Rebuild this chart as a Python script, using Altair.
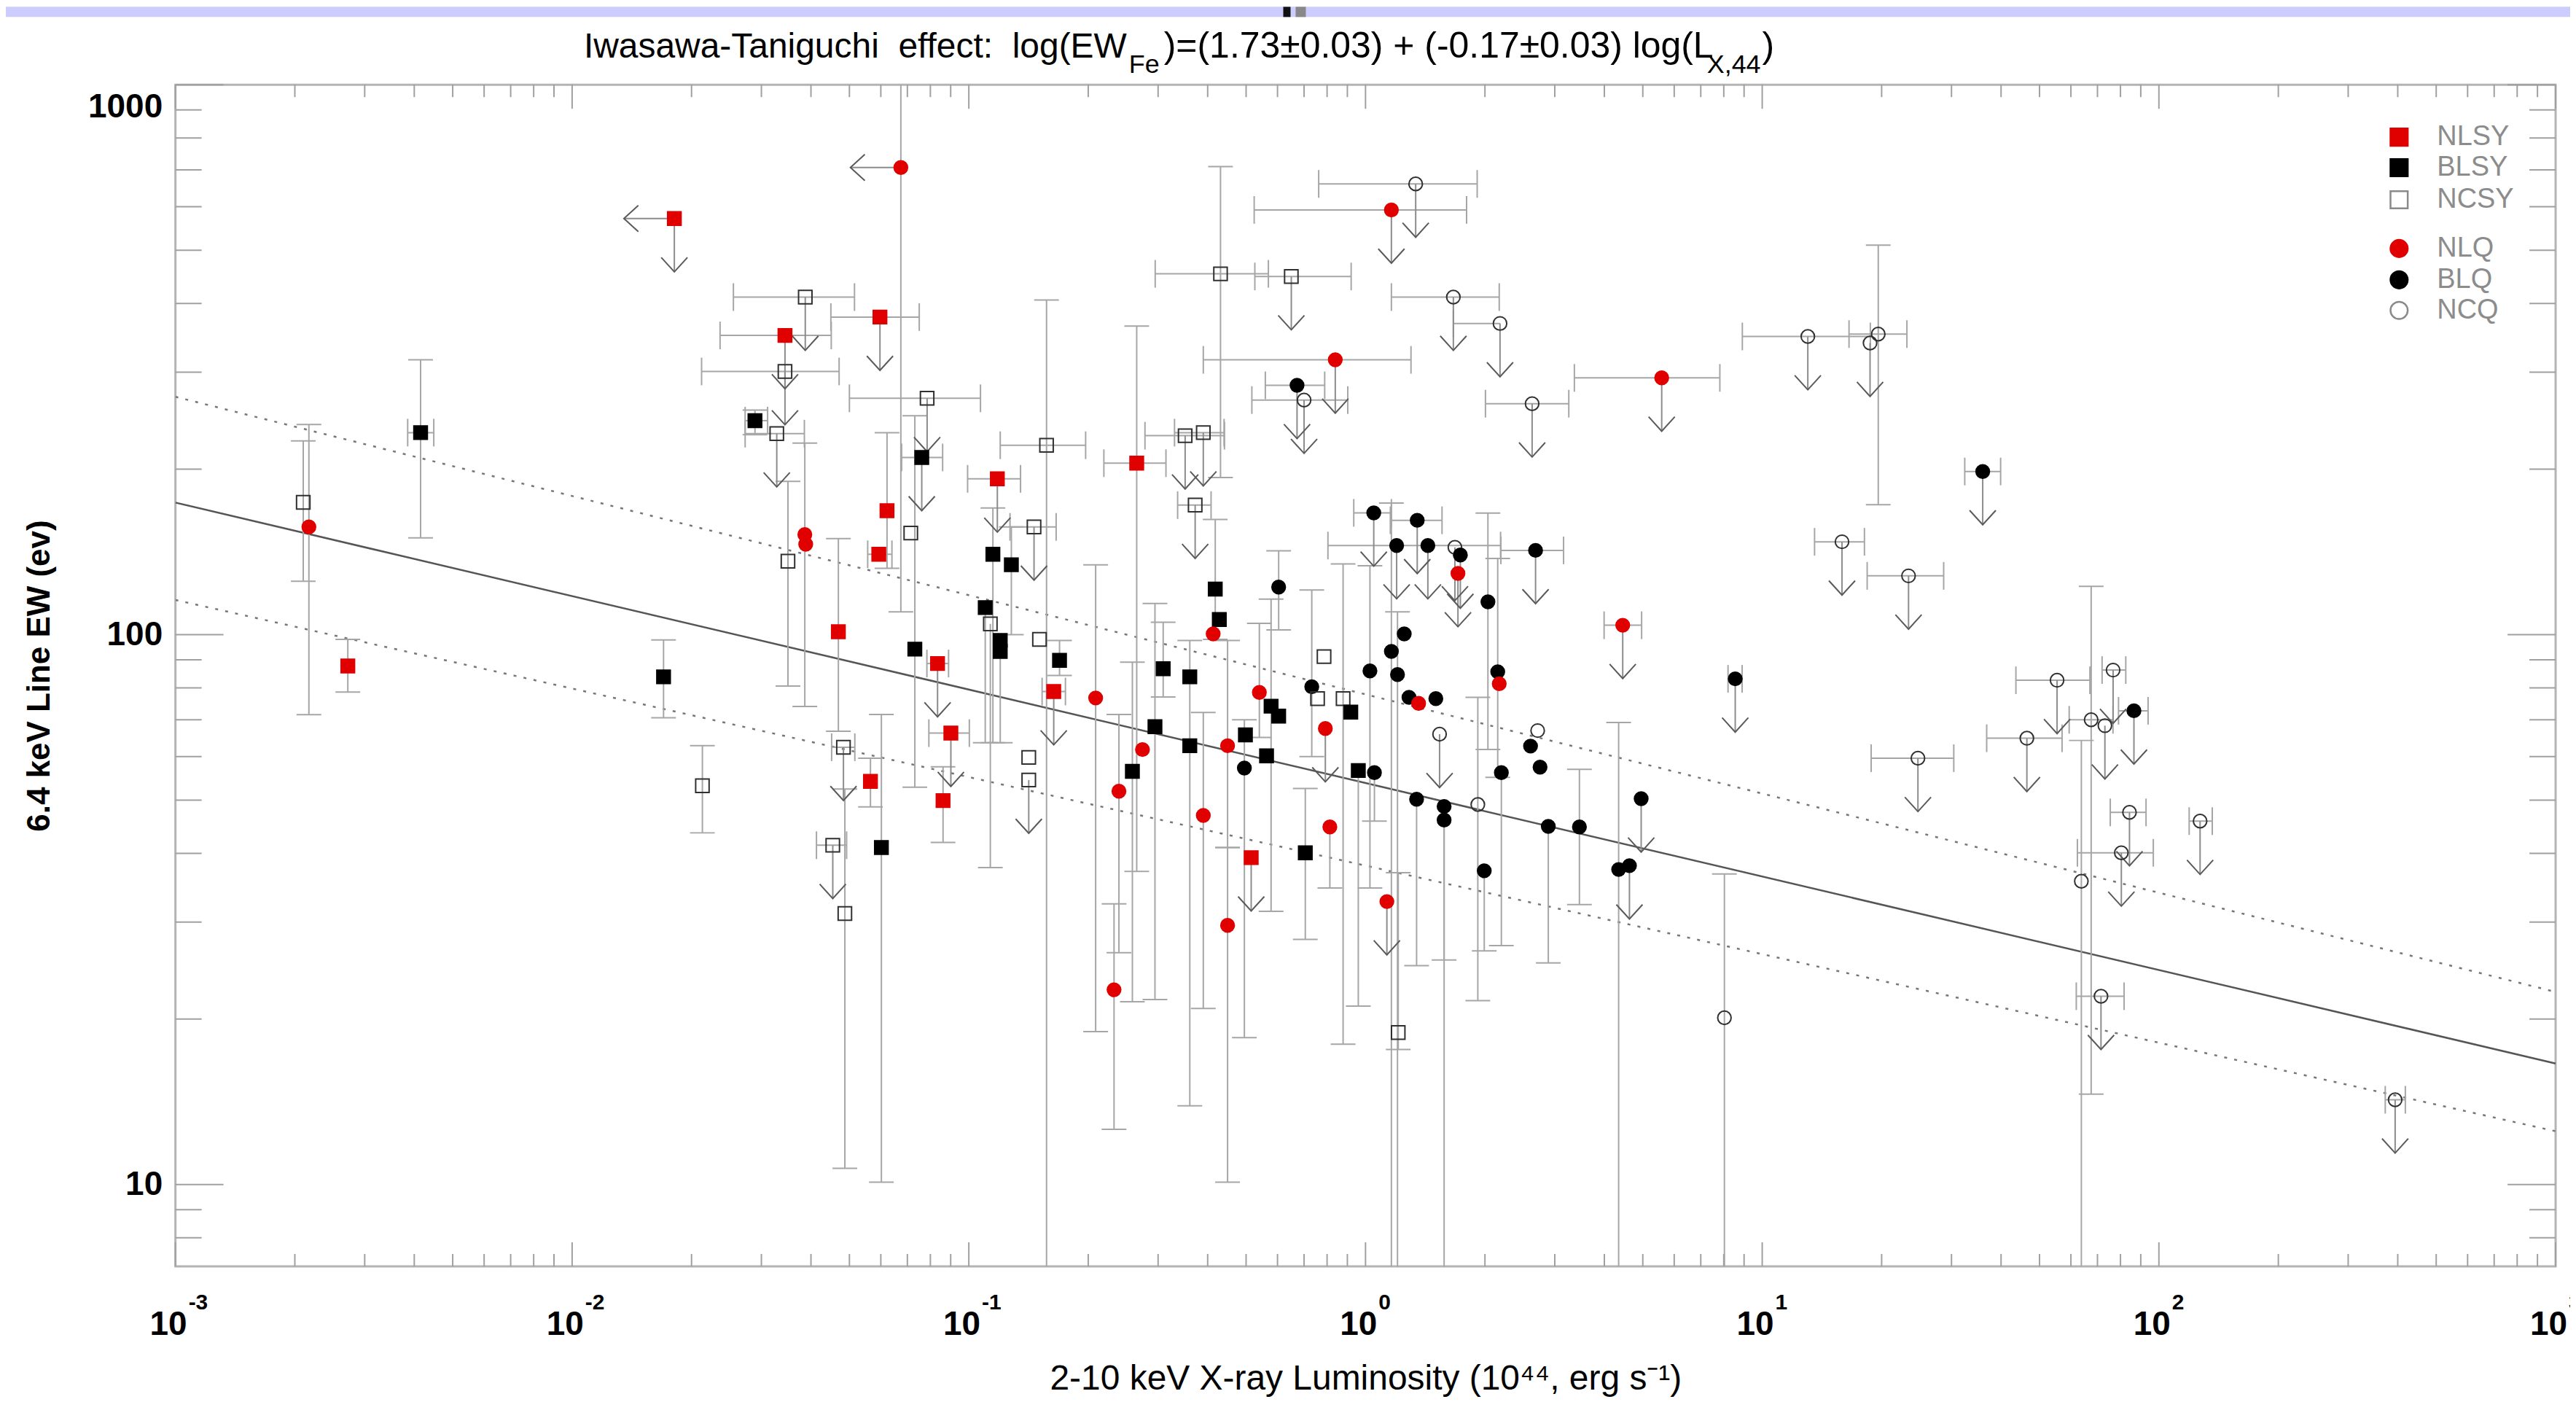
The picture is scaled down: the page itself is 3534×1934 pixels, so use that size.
import altair as alt
import pandas as pd

W, H = 3270, 1623
FONT = "Liberation Sans"
RED = "#e00000"
EBC = "#a6a6a6"
TICKC = "#a0a0a0"
N = None

# ---------------- data ----------------
cls = [
    "NCSY", "NLQ", "NLSY", "BLSY", "BLSY", "NCSY", "NLSY", "NCSY", "NLSY", "NCSY", "BLSY", "NCSY",
    "NLQ", "NLSY", "NCSY", "BLSY", "NCSY", "NCSY", "BLQ", "NCQ", "NCSY", "NCSY", "NCSY", "NLSY", "NCSY", "NLSY", "NCSY",
    "NLSY", "NLSY", "NLQ", "NLQ", "NCSY", "NCSY", "BLSY", "BLQ", "BLSY", "BLSY", "BLSY",
    "NCQ", "NLQ", "NCQ", "NCQ", "NLQ", "NCQ", "NLQ", "BLQ", "BLQ", "BLQ", "BLQ", "NCQ", "BLQ", "NLQ", "BLQ", "BLQ",
    "NLQ", "BLQ", "BLQ", "BLQ", "BLQ", "BLQ", "NLQ", "NCSY",
    "BLQ", "NCQ", "NCQ", "NCQ", "NCQ", "NCQ", "BLQ", "NCQ", "NCQ", "NCQ", "NCQ", "NCQ", "NCQ", "BLQ", "NCQ", "NCQ", "NCQ", "NCQ", "NCQ", "NCQ", "NCQ",
    "NLSY", "NCSY", "NCSY", "NCSY", "NLSY", "BLSY", "BLSY", "NLSY", "NLSY", "NLSY", "BLSY", "BLSY", "NCSY", "NCSY", "BLSY", "NLSY", "NCSY", "NCSY",
    "NLQ", "NLQ", "NLQ", "NLQ", "BLSY", "BLSY", "BLSY", "BLSY", "BLSY", "NLQ", "NLQ", "NLQ", "BLSY", "BLQ", "BLSY", "NLQ", "NLQ", "BLSY", "BLSY", "BLSY",
    "BLQ", "NCSY", "NCSY", "BLSY", "NLQ", "BLQ", "NLQ", "BLQ", "NCQ", "BLSY", "BLQ", "BLQ", "BLQ", "BLQ", "NCQ", "BLQ", "NCQ", "BLQ", "BLQ", "BLQ",
    "BLQ", "BLQ", "BLQ", "BLQ", "BLQ", "BLSY", "NLQ", "NLSY", "NLQ", "NCSY",
]
lum = [
    0.0021, 0.00217, 0.00272, 0.00415, 0.017, 0.0213, 0.0181, 0.0387, 0.0344, 0.0344, 0.0289, 0.0328,
    0.0674, 0.0597, 0.0785, 0.0761, 0.431, 0.65, 0.672, 0.70, 0.351, 0.39, 0.372, 0.265, 0.157, 0.118, 0.146,
    0.0622, 0.0593, 0.0386, 0.0388, 0.035, 0.0714, 0.418, 0.604, 0.115, 0.128, 0.11,
    1.338, 1.162, 1.665, 2.183, 0.839, 2.63, 5.58, 1.049, 1.35, 1.198, 1.436, 1.68, 1.734, 1.71, 2.683, 2.035,
    4.45, 1.252, 1.162, 1.026, 1.204, 2.154, 2.173, 0.786,
    35.96, 13.03, 19.61, 18.7, 15.89, 23.38, 8.55, 24.69, 55.37, 46.47, 76.65, 67.49, 73.09, 86.5, 84.3, 127, 80.4, 63.75, 71.45, 8.03, 394,
    0.0469, 0.0483, 0.0454, 0.0487, 0.0565, 0.0602, 0.0731, 0.0834, 0.0901, 0.0861, 0.12, 0.12, 0.1133, 0.1507, 0.1693, 0.1637, 0.1416, 0.1416,
    0.2088, 0.274, 0.239, 0.2323, 0.2584, 0.2946, 0.309, 0.3606, 0.3606, 0.39, 0.449, 0.449, 0.498, 0.495, 0.428, 0.413, 0.54, 0.578, 0.604, 0.563,
    0.732, 0.757, 0.878, 0.918, 0.792, 1.287, 1.361, 1.504, 1.537, 0.959, 1.053, 1.345, 1.578, 1.578, 1.919, 2.2, 2.716, 2.606, 2.754, 2.889,
    3.461, 4.953, 4.346, 4.627, 1.992, 0.705, 0.813, 0.515, 1.132, 1.209,
]
ew = [
    174, 157, 87.7, 233, 83.8, 53.1, 571, 411, 350, 301, 245, 232,
    707, 378, 269, 210, 453, 448, 284, 267, 230, 233, 172, 205, 221, 192, 157,
    168, 140, 152, 146, 136, 153, 121, 122, 140, 134, 112,
    660, 592, 411, 368, 316, 263, 293, 166.5, 161.4, 145.2, 145.2, 144.1, 139.6, 129.2, 142.3, 114.7,
    104, 100.3, 93.2, 85.9, 84.6, 85.6, 81.4, 91.2,
    198, 348.5, 352, 339, 147.5, 127.9, 83.1, 59.6, 82.6, 64.8, 86.2, 70, 68.3, 72.7, 47.5, 45.8, 40.1, 35.6, 22, 20.1, 14.26,
    101.2, 62.4, 41.4, 31.1, 54.1, 41, 94.1, 88.6, 66.2, 49.9, 97.6, 93.2, 104.6, 98, 89.8, 78.8, 59.8, 54.4,
    76.7, 61.8, 51.9, 22.6, 56.4, 68, 86.7, 83.8, 62.8, 46.9, 62.8, 29.6, 65.7, 57.2, 106.5, 100.3, 78.5, 74.1, 71.1, 60.2,
    80.4, 76.5, 76.5, 72.3, 67.5, 76.9, 75, 76.5, 65.9, 56.6, 56.1, 50.2, 48.7, 46, 49.1, 56.1, 66.9, 62.7, 57.4, 44.8,
    44.7, 50.3, 37.4, 38, 37.2, 40.1, 44.7, 39.3, 32.7, 18.9,
]
upper_limit = [
    0, 0, 0, 0, 0, 0, 1, 1, 1, 1, 0, 1,
    0, 1, 1, 1, 0, 1, 1, 1, 1, 1, 1, 0, 0, 1, 1,
    0, 0, 0, 0, 0, 0, 0, 0, 0, 0, 0,
    1, 1, 1, 1, 1, 1, 1, 1, 1, 1, 1, 1, 1, 1, 1, 0,
    1, 0, 0, 0, 0, 0, 0, 0,
    1, 1, 0, 1, 1, 1, 1, 1, 1, 1, 1, 0, 1, 1, 1, 1, 1, 0, 1, 0, 1,
    0, 1, 1, 0, 0, 0, 0, 1, 1, 0, 0, 0, 0, 0, 0, 1, 0, 1,
    0, 0, 0, 0, 0, 0, 0, 0, 0, 0, 0, 0, 0, 0, 0, 0, 0, 0, 0, 0,
    0, 0, 0, 0, 1, 0, 0, 0, 1, 0, 0, 0, 0, 0, 0, 0, 0, 0, 0, 0,
    0, 1, 0, 1, 0, 0, 0, 1, 1, 0,
]
left_limit = [
    0, 0, 0, 0, 0, 0, 1, 0, 0, 0, 0, 0,
    1, 0, 0, 0, 0, 0, 0, 0, 0, 0, 0, 0, 0, 0, 0,
] + [0] * 124
ew_lo = [
    125, 71.5, 78.6, 150, 70.6, 43.6, N, N, N, N, 231, N,
    110, N, N, N, 193, N, N, N, N, N, N, 37.1, 5, N, N,
    132, N, 74, N, 80.6, N, 98, 102, 63.6, 100, 63.6,
    N, N, N, N, N, N, N, N, N, N, N, N, N, N, N, 61.8,
    N, N, 5, 34.6, 5, 55, N, N,
    N, N, 172.3, N, N, N, N, N, N, N, N, 14.6, N, N, N, N, N, 5, N, 5, N,
    66.7, N, N, 10.7, 48.6, 10.1, 52.8, N, N, 41.9, 63.6, N, 37.7, N, 84.3, N, N, N,
    18.97, N, 26.4, 12.6, 21.5, 21.7, 77, 13.9, N, 20.9, 41, 10.1, N, 18.5, N, N, 65, 31.4, N, N,
    60, N, 18, N, N, N, N, N, N, 21.1, 45.8, 25, 5, 25.6, 21.6, 27.2, N, N, N, 25.3,
    32.3, N, 5, N, 26.6, 27.9, 34.6, N, N, 17.6,
]
ew_hi = [
    225, 241, 98, 316, 97.8, 62.8, N, N, N, N, 256, N,
    1200, N, N, N, 710, N, N, N, N, N, N, 364, 406, N, N,
    233, N, 223, N, 190, N, 162, 142, 170, 157, N,
    N, N, N, N, N, N, N, N, N, N, N, N, N, N, N, 166.3,
    N, N, 173.5, 133.4, 110, 137.6, N, N,
    N, N, 510.7, N, N, N, N, N, N, N, N, 122.4, N, N, N, N, N, 64.2, N, 36.7, N,
    149.5, N, N, 52.4, 59.6, 71.6, 250, N, N, 57.5, N, N, N, N, 97.6, N, N, N,
    133.9, N, 71.6, 32.4, 89.1, 113.9, 105.3, 97.6, N, 72.2, 97.6, 41, N, 70, N, N, 104.8, 116, N, N,
    120.5, N, 134.4, N, N, N, N, N, N, N, N, N, N, N, 76.9, N, N, N, N, N,
    56.9, N, 69.2, N, N, 52.5, N, N, N, 36.9,
]
lum_lo = [
    N, N, N, 0.00385, N, N, N, 0.0255, 0.0236, 0.0212, 0.0273, 0.0273,
    N, 0.0449, 0.05, 0.0677, 0.295, 0.526, 0.559, 0.517, 0.278, 0.33, 0.336, 0.219, 0.12, 0.0993, 0.127,
    N, 0.0556, N, N, N, N, N, N, N, N, N,
    0.762, 0.524, 1.162, 1.665, 0.39, 2.006, 3.361, 0.934, 1.155, 0.804, N, N, N, N, 2.194, N,
    3.994, N, N, N, N, N, N, N,
    32.4, 8.91, 16.55, N, 13.55, 18.39, 8.2, 18.82, 43.6, 36.8, 71.9, 59.4, N, 79.1, 75.4, 119.2, 62.3, N, 61.9, N, 372,
    N, 0.0451, 0.0413, N, N, N, N, 0.0784, 0.0793, N, N, N, N, N, N, 0.153, N, N,
] + [N] * 50
lum_hi = [
    N, N, N, 0.00448, N, N, N, 0.0515, 0.045, 0.0471, 0.0311, 0.0385,
    N, 0.075, 0.107, 0.0859, 0.569, 0.92, 0.789, 0.902, 0.441, 0.44, 0.408, 0.314, 0.197, 0.135, 0.166,
    N, 0.064, N, N, N, N, N, N, N, N, N,
    1.912, 1.798, 2.173, N, 1.302, 3.254, 7.82, 1.162, 1.559, 2.19, N, N, N, N, 3.157, N,
    4.966, N, N, N, N, N, N, N,
    39.9, 18.73, 23.16, N, 18.1, 28.67, 8.9, 30.4, 67, 57, 82.5, 76.6, N, 93.9, 92.8, 136.3, 96.8, N, 81.7, N, 418,
    N, 0.0516, 0.0492, N, N, N, N, 0.0889, 0.1003, N, N, N, N, N, N, 0.1752, N, N,
] + [N] * 50

# fit relation (solid) and the two dotted bounds, end points at L = 1e-3 and 1e3
fit_lum = [0.001, 1000]
fit_solid = [173.8, 16.6]
fit_upper = [270.7, 22.4]
fit_lower = [115.6, 12.5]

legend_names = ["NLSY", "BLSY", "NCSY", "NLQ", "BLQ", "NCQ"]
legend_shapes = ["square", "square", "square", "circle", "circle", "circle"]
legend_fill = [RED, "#000000", "transparent", RED, "#000000", "transparent"]
legend_stroke = [RED, "#000000", "#8a8a8a", RED, "#000000", "#8a8a8a"]
mark_stroke = [RED, "#000000", "#303030", RED, "#000000", "#303030"]

x_major = [0.001, 0.01, 0.1, 1, 10, 100, 1000]
x_exp = ["-3", "-2", "-1", "0", "1", "2", "3"]
x_minor = [m * 10.0 ** k for k in range(-3, 3) for m in range(2, 10)]
y_major = [10, 100, 1000]
y_minor = [8, 9] + [m * 10 for m in range(2, 10)] + [m * 100 for m in range(2, 10)]

title_pieces = [
    ("Iwasawa-Taniguchi \u00a0effect: \u00a0log(EW", 1307, -37, 48, "right"),
    ("Fe", 1310, -16, 36, "left"),
    (")=(1.73\u00b10.03) + (-0.17\u00b10.03) log(L", 1358, -37, 50, "left"),
    ("X,44", 2104, -16, 36, "left"),
    (")", 2180, -37, 50, "left"),
]

n = len(cls)
for arr in (lum, ew, upper_limit, left_limit, ew_lo, ew_hi, lum_lo, lum_hi):
    assert len(arr) == n, (len(arr), n)

df = pd.DataFrame(dict(cls=cls, lum=lum, ew=ew, ul=upper_limit, ll=left_limit,
                       ew_lo=ew_lo, ew_hi=ew_hi, lum_lo=lum_lo, lum_hi=lum_hi)).astype(
    {"ew_lo": float, "ew_hi": float, "lum_lo": float, "lum_hi": float})

# ---------------- scales / axes ----------------
xs = alt.Scale(type="log", domain=[1e-3, 1e3], nice=False)
ys = alt.Scale(type="log", domain=[7.1, 1000], nice=False)

X_AX = alt.Axis(values=x_major, labels=False, ticks=False, domain=False, grid=False,
                title="2-10 keV X-ray Luminosity (10\u2074\u2074, erg s\u207b\u00b9)",
                titleFont=FONT, titleFontSize=48, titleFontWeight="normal", titleColor="black",
                titleY=169, titleBaseline="alphabetic")
Y_AX = alt.Axis(values=y_major, format="d", ticks=False, domain=False, grid=False,
                labelFont=FONT, labelFontSize=46, labelFontWeight="bold", labelColor="black",
                labelPadding=18, labelFlush=True, labelFlushOffset=-8, labelOverlap=False,
                title="6.4 keV Line EW (ev)", titleFont=FONT, titleFontSize=44,
                titleFontWeight="bold", titleColor="black", titleX=-186, titleBaseline="middle")


def X(f):
    return alt.X(f, type="quantitative", scale=xs, axis=X_AX)


def Y(f):
    return alt.Y(f, type="quantitative", scale=ys, axis=Y_AX)


one = pd.DataFrame({"a": [0]})
layers = []

# browser-bar strip at the very top of the picture
layers.append(alt.Chart(one).mark_rect(color="#ccccff").encode(
    x=alt.value(-233), x2=alt.value(W + 20), y=alt.value(-107), y2=alt.value(-93)))
layers.append(alt.Chart(one).mark_rect(color="#111111").encode(
    x=alt.value(1522), x2=alt.value(1532), y=alt.value(-107), y2=alt.value(-93)))
layers.append(alt.Chart(one).mark_rect(color="#888888").encode(
    x=alt.value(1539), x2=alt.value(1553), y=alt.value(-107), y2=alt.value(-93)))

# fit lines
fit_df = pd.DataFrame({"lum": fit_lum, "solid": fit_solid, "upper": fit_upper, "lower": fit_lower})
layers.append(alt.Chart(fit_df).mark_line(color="#555555", strokeWidth=2.5, clip=True).encode(
    x=X("lum"), y=Y("solid")))
for col in ("upper", "lower"):
    layers.append(alt.Chart(fit_df).mark_line(color="#777777", strokeWidth=2.5, strokeDash=[4, 10],
                                              clip=True).encode(x=X("lum"), y=Y(col)))

# vertical error bars
vb = df[df.ew_lo.notna() | df.ew_hi.notna()].copy()
vb["lo"] = vb.ew_lo.fillna(vb.ew)
vb["hi"] = vb.ew_hi.fillna(vb.ew)
layers.append(alt.Chart(vb).mark_rule(color=EBC, strokeWidth=2, clip=True).encode(
    x=X("lum"), y=Y("lo"), y2="hi"))
# horizontal error bars
hb = df[df.lum_lo.notna() | df.lum_hi.notna()].copy()
hb["lo"] = hb.lum_lo.fillna(hb.lum)
hb["hi"] = hb.lum_hi.fillna(hb.lum)
layers.append(alt.Chart(hb).mark_rule(color=EBC, strokeWidth=2, clip=True).encode(
    x=X("lo"), x2="hi", y=Y("ew")))
# caps
ycaps = pd.concat([
    df.loc[df.ew_lo.notna(), ["lum", "ew_lo"]].rename(columns={"ew_lo": "v"}),
    df.loc[df.ew_hi.notna(), ["lum", "ew_hi"]].rename(columns={"ew_hi": "v"})])
xcaps = pd.concat([
    df.loc[df.lum_lo.notna(), ["ew", "lum_lo"]].rename(columns={"lum_lo": "v"}),
    df.loc[df.lum_hi.notna(), ["ew", "lum_hi"]].rename(columns={"lum_hi": "v"})])
layers.append(alt.Chart(ycaps).mark_point(shape="M-1,0L1,0", size=1156, filled=False, color=EBC,
                                          strokeWidth=2, opacity=1, clip=True).encode(
    x=X("lum"), y=Y("v")))
layers.append(alt.Chart(xcaps).mark_point(shape="M0,-1L0,1", size=1444, filled=False, color=EBC,
                                          strokeWidth=2, opacity=1, clip=True).encode(
    x=X("v"), y=Y("ew")))

# upper-limit arrows (fixed length on the log axis)
ul_df = df[df.ul == 1].copy()
ul_df["tip"] = ul_df.ew / 1.25
layers.append(alt.Chart(ul_df).mark_rule(color="#8c8c8c", strokeWidth=2, clip=True).encode(
    x=X("lum"), y=Y("ew"), y2="tip"))
layers.append(alt.Chart(ul_df).mark_point(shape="M-1,-1.1L0,0L1,-1.1", size=1296, filled=False,
                                          color="#5a5a5a", strokeWidth=2, opacity=1, clip=True).encode(
    x=X("lum"), y=Y("tip")))
ll_df = df[df.ll == 1].copy()
ll_df["tip"] = ll_df.lum / 1.34
layers.append(alt.Chart(ll_df).mark_rule(color="#8c8c8c", strokeWidth=2, clip=True).encode(
    x=X("lum"), x2="tip", y=Y("ew")))
layers.append(alt.Chart(ll_df).mark_point(shape="M1.1,-1L0,0L1.1,1", size=1296, filled=False,
                                          color="#5a5a5a", strokeWidth=2, opacity=1, clip=True).encode(
    x=X("tip"), y=Y("ew")))

# markers
layers.append(alt.Chart(df).mark_point(filled=True, size=340, strokeWidth=2, opacity=1).encode(
    x=X("lum"), y=Y("ew"),
    shape=alt.Shape("cls:N", scale=alt.Scale(domain=legend_names, range=legend_shapes), legend=None),
    fill=alt.Fill("cls:N", scale=alt.Scale(domain=legend_names, range=legend_fill), legend=None),
    stroke=alt.Stroke("cls:N", scale=alt.Scale(domain=legend_names, range=mark_stroke), legend=None)))

# legend (inside the plot, top right)
legend_y = [72, 114, 158, 225, 268, 310]
for name, shp, fc, sc, ly in zip(legend_names, legend_shapes, legend_fill, legend_stroke, legend_y):
    layers.append(alt.Chart(one).mark_point(shape=shp, filled=True, fill=fc, stroke=sc, size=560,
                                            strokeWidth=2.5, opacity=1).encode(
        x=alt.value(3055), y=alt.value(ly)))
    layers.append(alt.Chart(one).mark_text(text=name, align="left", baseline="middle", font=FONT,
                                           fontSize=38, color="#8c8c8c").encode(
        x=alt.value(3107), y=alt.value(ly)))

# inward ticks on all four sides
def xticks(vals, length):
    d = pd.DataFrame({"v": vals})
    return [
        alt.Chart(d).mark_rule(color=TICKC, strokeWidth=2).encode(
            x=X("v"), y=alt.value(H), y2=alt.value(H - length)),
        alt.Chart(d).mark_rule(color=TICKC, strokeWidth=2).encode(
            x=X("v"), y=alt.value(0), y2=alt.value(length)),
    ]


def yticks(vals, length):
    d = pd.DataFrame({"v": vals})
    return [
        alt.Chart(d).mark_rule(color=TICKC, strokeWidth=2).encode(
            y=Y("v"), x=alt.value(0), x2=alt.value(length)),
        alt.Chart(d).mark_rule(color=TICKC, strokeWidth=2).encode(
            y=Y("v"), x=alt.value(W), x2=alt.value(W - length)),
    ]


layers += xticks(x_major, 33) + xticks(x_minor, 17) + yticks(y_major, 66) + yticks(y_minor, 36)

# x tick labels: "10" with a raised exponent
xl = pd.DataFrame({"v": x_major, "e": x_exp})
layers.append(alt.Chart(xl).mark_text(text="10", align="right", baseline="alphabetic", dx=16,
                                      font=FONT, fontSize=46, fontWeight="bold", color="black").encode(
    x=X("v"), y=alt.value(H + 94)))
layers.append(alt.Chart(xl).mark_text(align="left", baseline="alphabetic", dx=18, font=FONT,
                                      fontSize=30, fontWeight="bold", color="black").encode(
    x=X("v"), y=alt.value(H + 59), text="e:N"))

# title with subscripts
for txt, tx, ty, fs, al in title_pieces:
    layers.append(alt.Chart(one).mark_text(text=txt, align=al, baseline="alphabetic", font=FONT,
                                           fontSize=fs, color="black").encode(
        x=alt.value(tx), y=alt.value(ty)))

chart = alt.layer(*layers).properties(
    width=W, height=H,
    autosize=alt.AutoSizeParams(type="none"),
    padding={"left": 233, "top": 107, "right": 20, "bottom": 180},
).configure(font=FONT, background="white").configure_view(stroke="#b4b4b4", strokeWidth=3)

chart.save("out.html", embed_options={"renderer": "svg", "actions": False})
